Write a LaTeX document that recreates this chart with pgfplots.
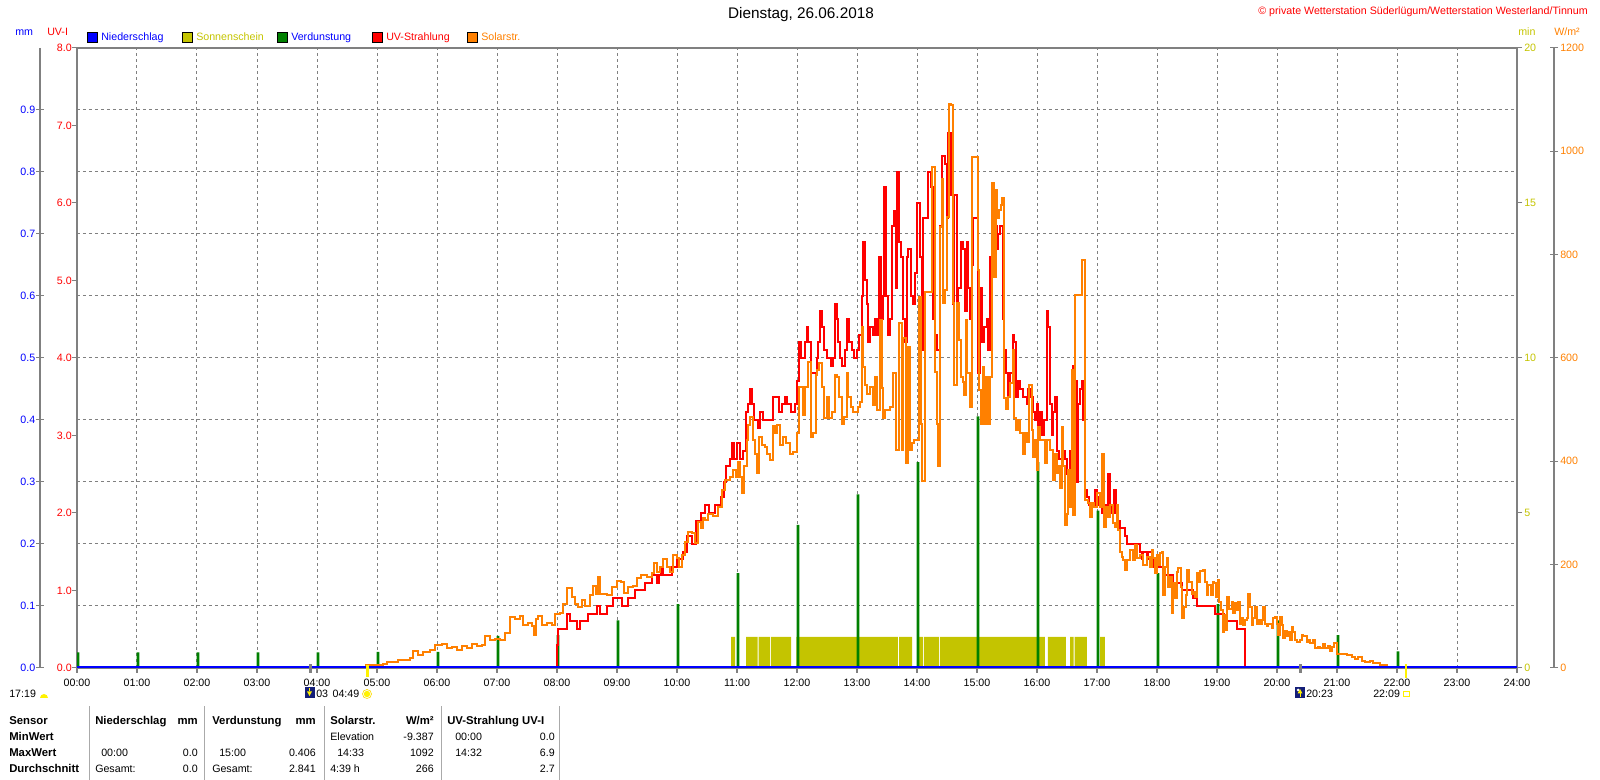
\documentclass[border=0pt]{standalone}
\usepackage{fontspec}
\setmainfont{Liberation Sans}
\usepackage{pgfplots}
\pgfplotsset{compat=1.18}
\definecolor{cgray}{RGB}{128,128,128}
\definecolor{csun}{RGB}{196,196,0}
\definecolor{cgreen}{RGB}{0,128,0}
\definecolor{corange}{RGB}{255,128,0}
\definecolor{cnavy}{RGB}{20,30,120}
\definecolor{cblue}{RGB}{0,0,255}
\definecolor{cred}{RGB}{255,0,0}
\definecolor{csep}{RGB}{170,170,170}
\pgfplotsset{
  base/.style={at={(57.75pt,84pt)}, anchor=south west, scale only axis, width=1080pt, height=465pt, xmin=0, xmax=24},
  tick label style={font=\fontsize{8}{9}\selectfont},
}
\begin{document}
\begin{tikzpicture}

% ---- frame and grid (mm scale)
\begin{axis}[base, ymin=0, ymax=1,
  xtick={0,1,...,24},
  xticklabels={00:00,01:00,02:00,03:00,04:00,05:00,06:00,07:00,08:00,09:00,10:00,11:00,12:00,13:00,14:00,15:00,16:00,17:00,18:00,19:00,20:00,21:00,22:00,23:00,24:00},
  ytick={0.1,0.2,0.3,0.4,0.5,0.6,0.7,0.8,0.9}, yticklabels={},
  xmajorgrids, ymajorgrids,
  major grid style={cgray, line width=0.75pt, dash pattern=on 2.25pt off 2.25pt},
  axis line style={cgray, line width=1.5pt},
  xtick pos=left,
  xtick style={cgray, line width=1pt}, ytick style={draw=none},
  xtick align=outside, major tick length=3.75pt,
  xticklabel style={anchor=center, inner sep=0pt, yshift=-7.5pt},
]
\addplot[draw=none] coordinates {(0,0)};
\end{axis}

% ---- Sonnenschein (min scale)
\begin{axis}[base, ymin=0, ymax=20, hide x axis,
  ytick={0,5,10,15,20}, ytick pos=right, yticklabel pos=right,
  y axis line style={draw=none}, ytick style={cgray, line width=0.75pt},
  ytick align=outside, major tick length=3.75pt,
  yticklabel style={text=csun, anchor=west, inner sep=0pt, xshift=1.5pt},
  /pgf/number format/assume math mode=true]
\addplot[fill=csun, draw=none] coordinates {
(10.90,0)(10.90,1)(10.967,1)(10.967,0)
(11.15,0)(11.15,1)(11.345,1)(11.345,0)(11.36,0)(11.36,1)(11.55,1)(11.55,0)
(11.567,0)(11.567,1)(11.9,1)(11.9,0)
(11.99,0)(11.99,1)(13.68,1)(13.68,0)
(13.70,0)(13.70,1)(13.92,1)(13.92,0)
(14.03,0)(14.03,1)(14.10,1)(14.10,0)
(14.12,0)(14.12,1)(14.365,1)(14.365,0)(14.38,0)(14.38,1)(16.13,1)(16.13,0)
(16.18,0)(16.18,1)(16.48,1)(16.48,0)
(16.55,0)(16.55,1)(16.61,1)(16.61,0)(16.625,0)(16.625,1)(16.83,1)(16.83,0)
(17.05,0)(17.05,1)(17.13,1)(17.13,0)
};
\end{axis}

% ---- Verdunstung (mm)
\begin{axis}[base, ymin=0, ymax=1, hide axis]
\addplot[ybar, bar width=2pt, bar shift=0.75pt, fill=cgreen, draw=none] coordinates {
(0,0.025)(1,0.025)(2,0.025)(3,0.025)(4,0.025)(5,0.026)(6,0.026)(7,0.052)(8,0.053)
(9,0.077)(10,0.103)(11,0.153)(12,0.231)(13,0.280)(14,0.332)(15,0.406)(16,0.332)
(17,0.254)(18,0.153)(19,0.103)(20,0.077)(21,0.053)(22,0.027)
};
\end{axis}

% ---- UV-Strahlung
\begin{axis}[base, ymin=0, ymax=8, hide x axis,
  ytick={0,1,...,8}, ytick pos=left, yticklabel pos=left,
  y axis line style={draw=none}, ytick style={cgray, line width=0.75pt},
  ytick align=outside, major tick length=3.75pt,
  yticklabel style={text=cred, anchor=east, inner sep=0pt, xshift=0pt,
    /pgf/number format/fixed, /pgf/number format/fixed zerofill, /pgf/number format/precision=1},
  /pgf/number format/assume math mode=true]
\addplot[cred, line width=1.5pt, const plot] coordinates {
(7.995,0)(8.0,0.3)(8.022,0.5)(8.161,0.7)(8.217,0.6)(8.328,0.5)(8.383,0.6)(8.522,0.7)
(8.661,0.8)(8.717,0.7)(8.839,0.8)(8.939,0.9)(9.078,0.8)(9.189,0.9)(9.3,1.0)(9.467,1.1)
(9.578,1.2)(9.672,1.1)(9.706,1.2)(9.728,1.3)(9.772,1.2)(9.911,1.3)(9.994,1.4)(10.094,1.5)
(10.161,1.7)(10.244,1.6)(10.317,1.9)(10.40,2.0)(10.467,2.1)(10.539,2.0)(10.633,2.1)
(10.728,2.2)(10.783,2.4)(10.811,2.6)(10.883,2.7)(10.922,2.9)(10.95,2.7)(11.006,2.9)
(11.05,2.7)(11.106,2.8)(11.15,3.3)(11.189,3.4)(11.217,3.6)(11.244,3.4)(11.283,3.2)
(11.356,3.1)(11.383,3.3)(11.428,3.2)(11.606,3.5)(11.706,3.3)(11.744,3.4)(11.8,3.5)
(11.839,3.4)(11.894,3.3)(11.967,3.4)(12.006,3.7)(12.039,4.2)(12.061,4.0)(12.133,4.2)
(12.161,4.4)(12.189,4.2)(12.228,3.8)(12.328,4.0)(12.356,4.2)(12.383,4.6)(12.411,4.4)
(12.45,4.1)(12.494,4.0)(12.561,3.9)(12.606,4.0)(12.633,4.7)(12.661,4.5)(12.689,4.2)
(12.717,4.0)(12.75,3.9)(12.8,4.1)(12.839,4.5)(12.872,4.2)(12.911,4.1)(12.95,4.0)
(12.994,4.1)(13.039,4.3)(13.078,4.8)(13.106,5.5)(13.133,5.0)(13.161,4.7)(13.189,4.2)
(13.217,4.4)(13.261,4.3)(13.3,4.5)(13.328,4.3)(13.372,5.3)(13.394,4.5)(13.428,4.8)
(13.45,6.2)(13.483,4.8)(13.522,4.3)(13.55,4.5)(13.589,5.7)(13.617,5.9)(13.644,4.9)
(13.672,6.4)(13.706,5.5)(13.728,5.3)(13.772,4.5)(13.8,4.2)(13.828,5.3)(13.856,5.4)
(13.894,4.8)(13.928,4.7)(13.967,5.1)(14.006,6.0)(14.05,5.3)(14.078,4.1)(14.106,5.8)
(14.189,6.4)(14.228,6.2)(14.261,4.5)(14.3,4.3)(14.339,4.1)(14.383,5.7)(14.411,6.6)
(14.467,6.5)(14.506,5.8)(14.522,6.9)(14.561,6.1)(14.594,4.7)(14.617,6.1)(14.661,4.6)
(14.689,4.9)(14.728,5.5)(14.761,5.4)(14.8,4.6)(14.828,5.5)(14.856,4.9)(14.883,4.5)
(14.911,5.2)(14.939,5.8)(15.022,3.8)(15.05,4.9)(15.078,4.2)(15.117,4.4)(15.161,4.5)
(15.189,4.1)(15.217,5.3)(15.244,5.6)(15.272,5.1)(15.3,5.7)(15.328,5.4)(15.356,5.6)
(15.383,5.7)(15.428,4.5)(15.45,4.1)(15.483,3.8)(15.522,3.5)(15.55,3.8)(15.594,4.3)
(15.617,4.2)(15.65,3.5)(15.689,3.7)(15.717,3.6)(15.772,3.5)(15.828,3.4)(15.856,3.6)
(15.883,3.5)(15.928,3.3)(15.967,3.2)(15.994,3.4)(16.022,3.1)(16.05,3.3)(16.078,3.0)
(16.117,3.2)(16.161,4.6)(16.189,4.4)(16.217,3.4)(16.244,3.0)(16.272,3.3)(16.3,3.5)
(16.339,2.8)(16.372,2.7)(16.411,3.1)(16.439,2.8)(16.467,2.7)(16.494,2.5)(16.522,2.4)
(16.55,2.8)(16.578,3.1)(16.606,3.9)(16.633,3.7)(16.661,2.4)(16.689,3.4)(16.717,3.6)
(16.744,3.7)(16.772,3.2)(16.8,2.3)(16.828,2.2)(16.872,2.1)(16.967,2.3)(16.994,2.1)
(17.039,2.2)(17.078,2.0)(17.117,2.1)(17.189,2.5)(17.217,2.1)(17.244,2.0)(17.283,2.3)
(17.317,2.0)(17.356,1.9)(17.383,1.8)(17.467,1.7)(17.506,1.6)(17.717,1.5)(17.744,1.4)
(17.772,1.5)(17.828,1.4)(17.856,1.5)(17.911,1.3)(17.939,1.4)(17.994,1.3)(18.106,1.2)
(18.261,1.1)(18.411,1.0)(18.594,0.9)(18.661,0.8)(18.967,0.7)(19.117,0.6)(19.328,0.5)
(19.467,0)(19.5,0)
};
\end{axis}

% ---- Solarstrahlung
\begin{axis}[base, ymin=0, ymax=1200, hide axis]
\addplot[corange, line width=1.5pt, const plot] coordinates {
(4.812,0)(4.817,5)(5.006,6)(5.106,8)(5.161,12)(5.356,16)(5.55,19)(5.606,32)(5.689,25)
(5.772,30)(5.883,34)(5.967,44)(6.078,46)(6.161,38)(6.244,41)(6.328,35)(6.411,43)
(6.494,38)(6.578,47)(6.661,43)(6.744,44)(6.8,61)(6.883,55)(6.967,57)(7.05,55)
(7.133,67)(7.217,98)(7.3,94)(7.383,101)(7.439,84)(7.522,88)(7.578,82)(7.617,63)
(7.644,95)(7.689,101)(7.744,84)(7.828,88)(7.911,84)(7.967,105)(8.05,107)(8.106,124)
(8.172,154)(8.244,137)(8.3,124)(8.356,119)(8.411,131)(8.467,120)(8.55,142)(8.606,159)
(8.65,143)(8.689,176)(8.717,143)(8.828,141)(8.911,157)(8.994,168)(9.061,166)
(9.117,145)(9.189,157)(9.272,158)(9.328,175)(9.394,180)(9.494,177)(9.578,184)
(9.617,203)(9.672,185)(9.717,195)(9.772,211)(9.828,195)(9.883,186)(9.939,218)
(9.994,212)(10.039,195)(10.078,218)(10.133,244)(10.189,263)(10.244,261)(10.3,241)
(10.356,283)(10.40,270)(10.44,290)(10.467,286)(10.522,299)(10.606,294)(10.689,312)
(10.744,344)(10.8,364)(10.883,370)(10.939,383)(10.983,370)(11.022,399)(11.05,370)
(11.078,338)(11.117,390)(11.161,441)(11.189,470)(11.217,486)(11.261,441)(11.3,415)
(11.339,377)(11.372,448)(11.411,431)(11.467,428)(11.506,415)(11.55,402)(11.606,469)
(11.633,454)(11.672,470)(11.717,431)(11.772,448)(11.817,435)(11.883,415)(11.939,419)
(12.006,454)(12.039,544)(12.094,490)(12.133,544)(12.189,593)(12.228,448)(12.261,454)
(12.317,567)(12.339,577)(12.372,590)(12.411,544)(12.45,483)(12.494,525)(12.539,483)
(12.578,496)(12.633,567)(12.661,564)(12.706,525)(12.744,473)(12.783,486)(12.828,570)
(12.856,525)(12.894,506)(12.939,496)(13.022,506)(13.05,515)(13.078,660)(13.106,583)
(13.133,548)(13.161,531)(13.217,544)(13.261,509)(13.3,564)(13.339,499)(13.383,673)
(13.411,541)(13.439,483)(13.467,499)(13.55,506)(13.606,570)(13.65,422)(13.706,667)
(13.744,422)(13.772,638)(13.817,396)(13.856,622)(13.883,422)(13.911,435)(13.95,441)
(14.039,718)(14.061,473)(14.078,361)(14.133,728)(14.244,969)(14.3,573)(14.328,473)
(14.356,390)(14.383,854)(14.411,947)(14.439,706)(14.467,731)(14.506,873)(14.539,1092)
(14.561,1089)(14.594,706)(14.617,548)(14.672,706)(14.706,634)(14.728,564)(14.761,554)
(14.783,528)(14.817,673)(14.839,570)(14.883,506)(14.911,989)(15.022,770)(15.039,538)
(15.061,473)(15.094,583)(15.117,473)(15.15,564)(15.183,473)(15.217,564)(15.244,938)
(15.289,757)(15.317,925)(15.339,870)(15.372,886)(15.394,896)(15.417,909)(15.45,522)
(15.483,502)(15.522,525)(15.55,551)(15.594,615)(15.617,483)(15.65,461)(15.689,480)
(15.717,454)(15.761,415)(15.8,454)(15.828,438)(15.872,548)(15.911,461)(15.939,409)
(15.967,441)(15.994,383)(16.022,467)(16.05,441)(16.133,396)(16.161,441)(16.217,422)
(16.272,364)(16.3,415)(16.328,377)(16.356,390)(16.383,348)(16.411,467)(16.439,390)
(16.467,277)(16.494,299)(16.522,383)(16.55,312)(16.578,577)(16.606,296)(16.633,722)
(16.744,790)(16.8,325)(16.856,319)(16.883,293)(16.911,319)(16.95,312)(16.994,338)
(17.05,312)(17.078,415)(17.117,273)(17.15,312)(17.189,293)(17.217,315)(17.261,280)
(17.3,273)(17.328,315)(17.356,267)(17.383,225)(17.411,215)(17.439,209)(17.467,190)
(17.506,209)(17.55,228)(17.606,209)(17.633,238)(17.672,212)(17.717,219)(17.772,200)
(17.828,215)(17.883,196)(17.911,228)(17.939,212)(17.967,183)(17.994,219)(18.022,199)
(18.05,222)(18.078,225)(18.106,141)(18.133,196)(18.161,212)(18.189,157)(18.217,177)
(18.244,106)(18.272,164)(18.3,135)(18.328,186)(18.356,193)(18.394,157)(18.422,96)
(18.45,119)(18.483,141)(18.506,190)(18.539,167)(18.578,144)(18.606,148)(18.633,138)
(18.661,183)(18.689,167)(18.717,188)(18.761,190)(18.8,167)(18.828,141)(18.856,161)
(18.894,141)(18.928,167)(18.956,164)(18.983,138)(19.011,170)(19.039,128)(19.061,112)
(19.094,70)(19.117,103)(19.15,74)(19.172,138)(19.206,115)(19.244,128)(19.272,106)
(19.3,125)(19.328,112)(19.356,128)(19.383,86)(19.411,96)(19.439,83)(19.467,93)
(19.494,96)(19.522,144)(19.55,119)(19.578,83)(19.606,96)(19.633,119)(19.661,86)
(19.689,93)(19.717,86)(19.744,93)(19.772,119)(19.8,86)(19.828,81)(19.856,85)
(19.911,77)(19.939,96)(19.967,98)(19.994,86)(20.022,64)(20.05,99)(20.078,83)
(20.106,59)(20.133,72)(20.161,61)(20.189,70)(20.217,55)(20.244,79)(20.272,70)
(20.3,54)(20.328,51)(20.383,55)(20.411,64)(20.439,61)(20.494,51)(20.522,54)(20.55,48)
(20.606,55)(20.633,38)(20.689,41)(20.717,38)(20.772,46)(20.8,38)(20.856,43)(20.883,32)
(20.911,41)(20.95,48)(20.994,28)(21.05,27)(21.161,25)(21.244,22)(21.3,17)(21.356,21)
(21.411,14)(21.467,12)(21.55,14)(21.606,9)(21.717,6)(21.839,0)(21.85,0)
};
\end{axis}

% ---- Niederschlag (0 mm)
\begin{axis}[base, ymin=0, ymax=1, hide axis, clip=false]
\addplot[cblue, line width=1.5pt] coordinates {(0,0.0016) (24,0.0016)};
\end{axis}

% ---- mm tick axis
\begin{axis}[at={(30pt,84pt)}, anchor=south west, scale only axis, width=0.1pt, height=465pt,
  xmin=0, xmax=1, ymin=0, ymax=1, hide x axis,
  ytick={0,0.1,0.2,0.3,0.4,0.5,0.6,0.7,0.8,0.9}, ytick pos=left, yticklabel pos=left,
  y axis line style={cgray, line width=0.75pt}, ytick style={cgray, line width=0.75pt},
  ytick align=center, major tick length=5.25pt,
  yticklabel style={text=cblue, anchor=east, inner sep=0pt, xshift=-0.75pt,
    /pgf/number format/fixed, /pgf/number format/fixed zerofill, /pgf/number format/precision=1},
  /pgf/number format/assume math mode=true]
\addplot[draw=none] coordinates {(0,0)};
\end{axis}

% ---- W/m2 tick axis
\begin{axis}[at={(1165.5pt,84pt)}, anchor=south east, scale only axis, width=0.1pt, height=465pt,
  xmin=0, xmax=1, ymin=0, ymax=1200, hide x axis,
  ytick={0,200,400,600,800,1000,1200}, ytick pos=right, yticklabel pos=right,
  y axis line style={cgray, line width=0.75pt}, ytick style={cgray, line width=0.75pt},
  ytick align=center, major tick length=6pt,
  yticklabel style={text=corange, anchor=west, inner sep=0pt, xshift=1.5pt,
    /pgf/number format/1000 sep={}},
  /pgf/number format/assume math mode=true]
\addplot[draw=none] coordinates {(0,0)};
\end{axis}

\begin{scope}[x=0.75pt,y=0.75pt,
  lab/.style={inner sep=0pt, text height=6pt, text depth=1.6pt, font=\fontsize{8}{9}\selectfont},
  labb/.style={inner sep=0pt, text height=6pt, text depth=1.6pt, font=\fontsize{8.5}{9}\selectfont\bfseries}]
% ---- titles
\node[inner sep=0pt, font=\fontsize{11.5}{13}\selectfont] at (801,765) {Dienstag, 26.06.2018};
\node[lab, text=cred, anchor=east] at (1588,768) {© private Wetterstation Süderlügum/Wetterstation Westerland/Tinnum};
\node[lab, text=cblue, anchor=west] at (15,747) {mm};
\node[lab, text=cred, anchor=west] at (47,747) {UV-I};
\node[lab, text=csun, anchor=west] at (1518,747) {min};
\node[lab, text=corange, anchor=west] at (1554,747) {W/m²};

% ---- legend
\foreach \x/\c/\t/\tc in {87/cblue/Niederschlag/cblue, 182/csun/Sonnenschein/csun, 277/cgreen/Verdunstung/cblue, 372/cred/UV-Strahlung/cred, 467/corange/Solarstr./corange} {
  \filldraw[fill=\c, draw=black, line width=0.75pt] (\x,737) rectangle ++(10,10);
  \node[lab, text=\tc, anchor=west] at (\x+14,742) {\t};
}

% ---- sun/moon markers below axis
\fill[cgray] (308.5,107) rectangle (311.5,116);
\fill[yellow] (366,103) rectangle (368.5,115);
\fill[cgray] (1298.5,107) rectangle (1301.5,116);
\fill[yellow] (1404.5,102) rectangle (1407,116);
\node[lab, anchor=west] at (9,85) {17:19};
\fill[yellow] (40,82) arc[start angle=180, end angle=0, radius=4] -- cycle;
\fill[cnavy] (305,82) rectangle (315,93);
\fill[yellow] (309.5,84) -- (312,88.5) -- (307,88.5) -- cycle;
\draw[yellow, line width=0.75pt] (309.5,88.5) -- (309.5,92);
\node[lab, anchor=west] at (316,85) {03};
\node[lab, fill=white, inner xsep=1pt, anchor=west] at (331,85) {04:49};
\fill[yellow] (367,86) circle (3.2);
\draw[yellow!80!orange, line width=0.5pt] (367,86) circle (4.5);
\fill[cnavy] (1295,82) rectangle (1305,93);
\fill[white] (1298,90) circle (1.5);
\fill[yellow] (1300,91) -- (1302.5,86.5) -- (1297.5,86.5) -- cycle;
\draw[yellow, line width=0.75pt] (1300,86.5) -- (1300,83);
\node[lab, anchor=west] at (1306,85) {20:23};
\node[lab, anchor=west] at (1373,85) {22:09};
\draw[yellow, line width=0.75pt] (1403.5,83) rectangle (1409,88.5);

% ---- table
\foreach \x in {89,204,324,441,559} { \draw[csep, line width=0.75pt] (\x,0) -- (\x,74); }
\node[labb, anchor=west] at (9,58) {Sensor};
\node[labb, anchor=west] at (95,58) {Niederschlag};
\node[labb, anchor=east] at (198,58) {mm};
\node[labb, anchor=west] at (212,58) {Verdunstung};
\node[labb, anchor=east] at (316,58) {mm};
\node[labb, anchor=west] at (330,58) {Solarstr.};
\node[labb, anchor=east] at (434,58) {W/m²};
\node[labb, anchor=west] at (447,58) {UV-Strahlung UV-I};
\node[labb, anchor=west] at (9,42) {MinWert};
\node[lab, anchor=west] at (330,42) {Elevation};
\node[lab, anchor=east] at (434,42) {-9.387};
\node[lab, anchor=west] at (455,42) {00:00};
\node[lab, anchor=east] at (555,42) {0.0};
\node[labb, anchor=west] at (9,26) {MaxWert};
\node[lab, anchor=west] at (101,26) {00:00};
\node[lab, anchor=east] at (198,26) {0.0};
\node[lab, anchor=west] at (219,26) {15:00};
\node[lab, anchor=east] at (316,26) {0.406};
\node[lab, anchor=west] at (337,26) {14:33};
\node[lab, anchor=east] at (434,26) {1092};
\node[lab, anchor=west] at (455,26) {14:32};
\node[lab, anchor=east] at (555,26) {6.9};
\node[labb, anchor=west] at (9,10) {Durchschnitt};
\node[lab, anchor=west] at (95,10) {Gesamt:};
\node[lab, anchor=east] at (198,10) {0.0};
\node[lab, anchor=west] at (212,10) {Gesamt:};
\node[lab, anchor=east] at (316,10) {2.841};
\node[lab, anchor=west] at (330,10) {4:39 h};
\node[lab, anchor=east] at (434,10) {266};
\node[lab, anchor=east] at (555,10) {2.7};

\pgfresetboundingbox
\useasboundingbox (0,0) rectangle (1600,780);
\end{scope}
\end{tikzpicture}
\end{document}
